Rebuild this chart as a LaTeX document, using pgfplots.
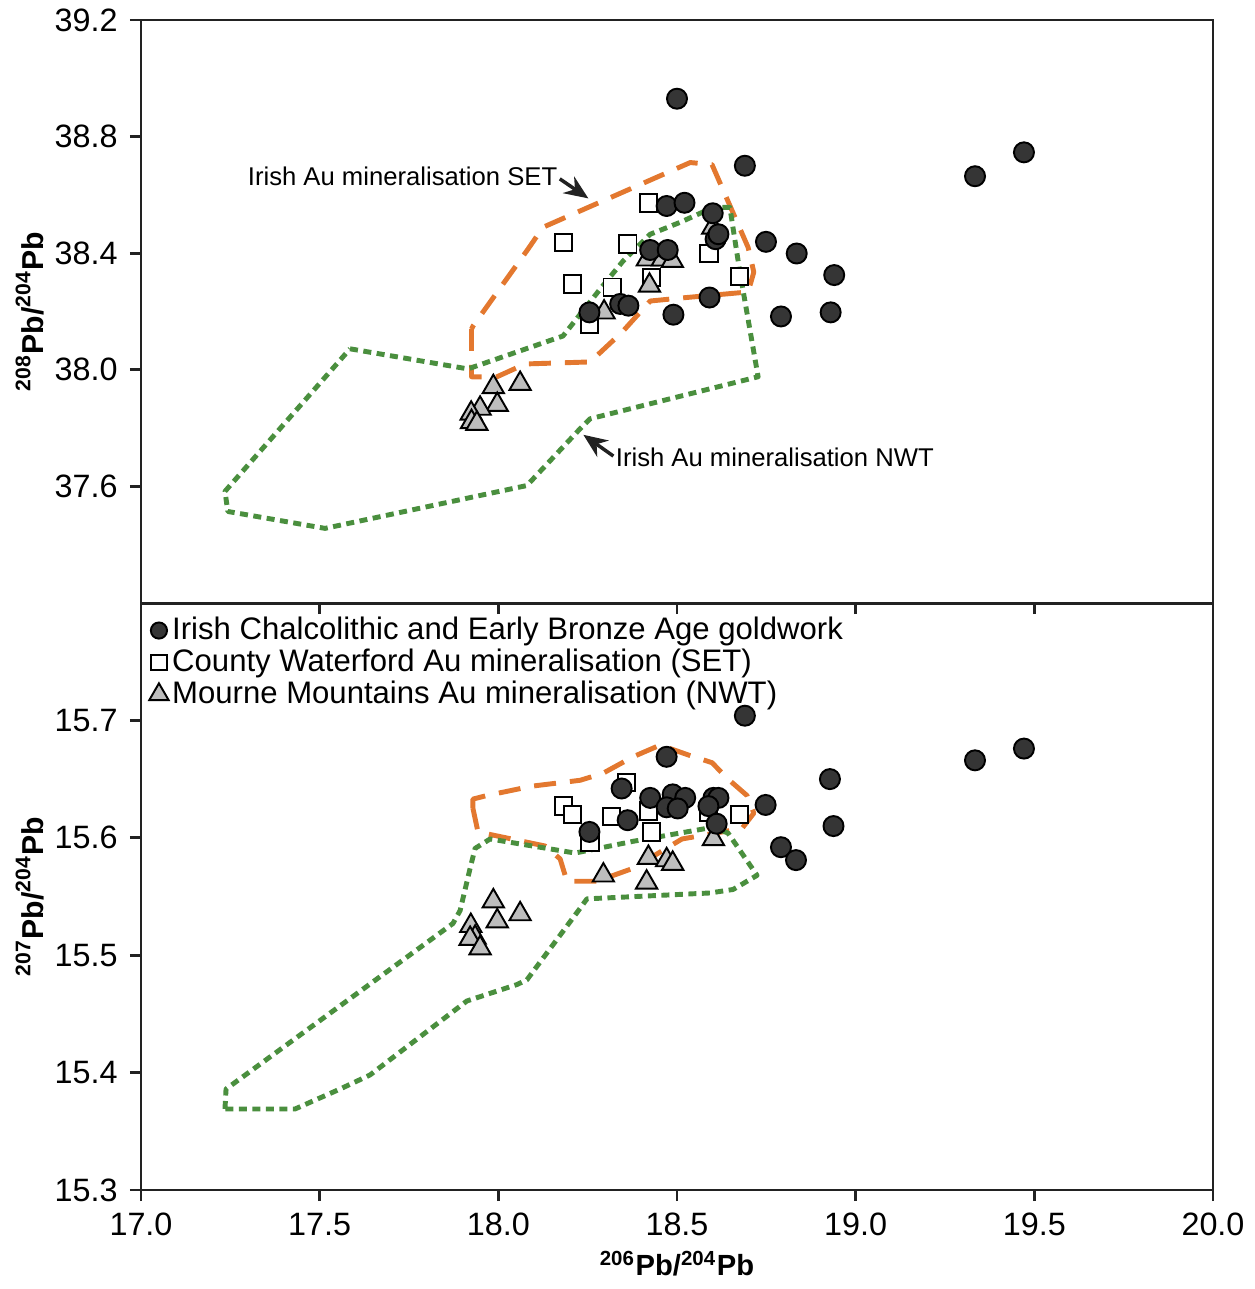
\documentclass[border=0pt]{standalone}
\usepackage{fontspec}
\setmainfont{Liberation Sans}
\usepackage{pgfplots}
\pgfplotsset{compat=1.18}
\usetikzlibrary{arrows.meta}
\definecolor{setorange}{HTML}{E3782F}
\definecolor{nwtgreen}{HTML}{4A8F3E}
\definecolor{goldfill}{HTML}{353535}
\definecolor{trifill}{HTML}{BDBDBD}
\definecolor{axisgray}{HTML}{222222}

\pgfplotsset{
  pbaxis/.style={
    width=107.2mm, scale only axis,
    xmin=17, xmax=20,
    axis line style={line width=0.85pt, axisgray},
    major tick style={line width=0.85pt, axisgray},
    major tick length=1.1mm,
    tick align=outside,
    xtick pos=bottom, ytick pos=left,
    xtick={17,17.5,18,18.5,19,19.5,20},
    tick label style={font=\fontsize{9.2}{10}\selectfont},
    /pgf/number format/assume math mode=true,
    /pgf/number format/fixed, /pgf/number format/fixed zerofill,
    /pgf/number format/precision=1,
    label style={font=\fontsize{8.6}{10}\selectfont\bfseries},
    ylabel style={at={(axis description cs:-0.1035,0.5)}, anchor=center},
  },
  gold/.style={only marks, mark=*, mark size=2.85pt,
    mark options={fill=goldfill, draw=black, line width=0.55pt}},
  setsq/.style={only marks, mark=square*, mark size=2.5pt,
    mark options={fill=white, draw=black, line width=0.55pt}},
  nwt/.style={only marks, mark=triangle*, mark size=3.5pt,
    mark options={fill=trifill, draw=black, line width=0.55pt}},
  setline/.style={setorange, line width=1.4pt, dash pattern=on 2.2mm off 1.4mm, line join=round},
  nwtline/.style={nwtgreen, line width=1.4pt, dash pattern=on 0.8mm off 0.55mm, line join=round},
}
\tikzset{
  annot/.style={font=\fontsize{7.3}{8}\selectfont, inner sep=0pt},
  annarrow/.style={-{Stealth[length=2.4mm,width=2mm]}, line width=1pt, axisgray},
}

\begin{document}
\begin{tikzpicture}
\useasboundingbox (-14.1mm,-9.9mm) rectangle (111.4mm,119mm);

% ---- top: 208Pb/204Pb ----
\begin{axis}[pbaxis,
  at={(0,58.7mm)}, anchor=south west,
  height=58.3mm,
  ymin=37.2, ymax=39.2,
  ytick={37.6,38.0,38.4,38.8,39.2},
  xticklabels={},
  ylabel={\textsuperscript{208}Pb/\textsuperscript{204}Pb},
]
\addplot[setline] coordinates {
(17.925,38.140)(17.925,37.976)(17.996,37.976)(18.075,38.020)(18.257,38.027)
(18.347,38.130)(18.425,38.236)(18.509,38.246)(18.699,38.267)(18.715,38.335)
(18.699,38.420)(18.598,38.704)(18.537,38.711)(18.125,38.489)(18.083,38.414)
(17.929,38.150)(17.925,38.140)};
\addplot[nwtline] coordinates {
(17.585,38.072)(17.915,38.003)(18.181,38.116)(18.285,38.277)(18.349,38.373)
(18.425,38.465)(18.509,38.506)(18.601,38.557)(18.648,38.557)(18.676,38.335)
(18.727,37.976)(18.257,37.832)(18.229,37.798)(18.080,37.603)(17.515,37.456)
(17.243,37.514)(17.235,37.583)(17.585,38.072)};

\addplot[setsq] coordinates {
(18.420,38.573)(18.182,38.437)(18.362,38.431)(18.208,38.294)(18.319,38.283)
(18.255,38.157)(18.590,38.399)(18.675,38.320)(18.429,38.317)};
\addplot[nwt] coordinates {
(18.296,38.197)(18.417,38.379)(18.459,38.379)(18.487,38.374)(18.423,38.289)
(18.600,38.488)(17.986,37.941)(18.061,37.952)(17.997,37.880)(17.949,37.867)
(17.924,37.850)(17.925,37.821)(17.940,37.815)};
\addplot[gold] coordinates {
(18.500,38.930)(18.690,38.700)(19.334,38.664)(19.471,38.746)(18.471,38.562)
(18.521,38.573)(18.600,38.537)(18.608,38.448)(18.616,38.465)(18.749,38.439)
(18.835,38.399)(18.940,38.325)(18.425,38.411)(18.474,38.411)(18.591,38.248)
(18.490,38.189)(18.791,38.183)(18.930,38.197)(18.255,38.197)(18.341,38.226)
(18.364,38.220)};

\node[annot, anchor=east] at (axis cs:18.167,38.664) {Irish Au mineralisation SET};
\draw[annarrow] (axis cs:18.172,38.655) -- (axis cs:18.252,38.588);
\node[annot, anchor=west] at (axis cs:18.327,37.699) {Irish Au mineralisation NWT};
\draw[annarrow] (axis cs:18.322,37.704) -- (axis cs:18.238,37.777);
\end{axis}

% ---- bottom: 207Pb/204Pb ----
\begin{axis}[pbaxis,
  at={(0,0)}, anchor=south west,
  height=58.7mm,
  ymin=15.3, ymax=15.8,
  ytick={15.3,15.4,15.5,15.6,15.7},
  xlabel={\textsuperscript{206}Pb/\textsuperscript{204}Pb},
  xlabel style={at={(axis description cs:0.5,-0.126)}, anchor=center,
    font=\fontsize{8.3}{10}\selectfont\bfseries},
  ylabel={\textsuperscript{207}Pb/\textsuperscript{204}Pb},
  legend style={at={(0.007,0.984)}, anchor=north west, draw=none, fill=none,
    font=\fontsize{8.85}{10}\selectfont, inner sep=0pt,
    row sep=-0.8pt, nodes={inner sep=1pt}},
  legend cell align=left,
]
\addlegendimage{gold, mark size=2.3pt}
\addlegendentry{Irish Chalcolithic and Early Bronze Age goldwork}
\addlegendimage{setsq, mark size=2.2pt}
\addlegendentry{County Waterford Au mineralisation (SET)}
\addlegendimage{nwt, mark size=3.2pt}
\addlegendentry{Mourne Mountains Au mineralisation (NWT)}

\addplot[setline, forget plot] coordinates {
(17.929,15.625)(17.929,15.633)(17.968,15.636)(18.094,15.644)(18.229,15.649)
(18.293,15.655)(18.377,15.669)(18.453,15.679)(18.537,15.670)(18.598,15.664)
(18.643,15.650)(18.696,15.636)(18.715,15.621)(18.682,15.608)(18.514,15.599)
(18.377,15.574)(18.276,15.563)(18.192,15.563)(18.173,15.582)(18.131,15.593)
(17.943,15.605)(17.929,15.625)};
\addplot[nwtline, forget plot] coordinates {
(17.235,15.369)(17.238,15.386)(17.873,15.527)(17.893,15.538)(17.921,15.574)
(17.935,15.591)(17.977,15.599)(18.215,15.587)(18.377,15.597)(18.601,15.609)
(18.643,15.604)(18.724,15.568)(18.657,15.556)(18.592,15.553)(18.248,15.548)
(18.229,15.540)(18.080,15.479)(18.052,15.475)(17.912,15.461)(17.641,15.398)
(17.557,15.386)(17.431,15.369)(17.235,15.369)};

\addplot[setsq, forget plot] coordinates {
(18.359,15.647)(18.182,15.627)(18.208,15.620)(18.317,15.618)(18.420,15.623)
(18.429,15.605)(18.257,15.596)(18.675,15.620)(18.588,15.622)};
\addplot[nwt, forget plot] coordinates {
(18.602,15.599)(18.294,15.568)(18.420,15.583)(18.471,15.581)(18.488,15.578)
(18.415,15.562)(17.986,15.546)(18.061,15.535)(17.997,15.529)(17.923,15.525)
(17.935,15.515)(17.921,15.514)(17.949,15.506)};
\addplot[gold, forget plot] coordinates {
(18.690,15.704)(18.471,15.669)(18.928,15.650)(18.938,15.610)(18.748,15.628)
(18.791,15.592)(18.833,15.581)(18.345,15.642)(18.425,15.634)(18.488,15.637)
(18.523,15.634)(18.471,15.626)(18.502,15.625)(18.602,15.634)(18.616,15.634)
(18.588,15.627)(18.611,15.612)(18.362,15.615)(18.255,15.605)(19.334,15.666)
(19.471,15.676)};
\end{axis}
\end{tikzpicture}
\end{document}
